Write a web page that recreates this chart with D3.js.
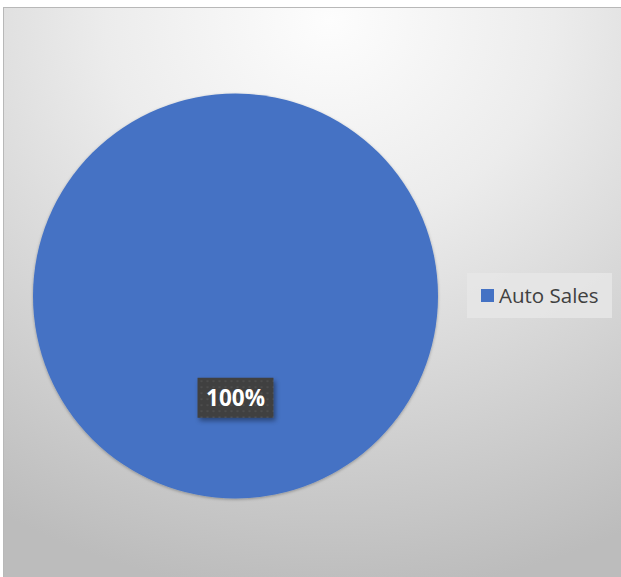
<!DOCTYPE html>
<html><head><meta charset="utf-8">
<script src="https://cdn.jsdelivr.net/npm/d3@7"></script>
<style>html,body{margin:0;padding:0;background:#fff;overflow:hidden}</style>
</head><body>
<script>
const categories = ["Auto Sales"];
const values = [1];
const colors = ["#4472c4"];

const W = 621, H = 577;
const svg = d3.select("body").append("svg").attr("width", W).attr("height", H);
const defs = svg.append("defs");

const bg = defs.append("radialGradient").attr("id","bg")
  .attr("gradientUnits","userSpaceOnUse")
  .attr("cx",330).attr("cy",20).attr("r",640)
  .attr("gradientTransform","translate(330,20) scale(1,0.9) translate(-330,-20)");
bg.append("stop").attr("offset","0").attr("stop-color","#fdfdfd");
bg.append("stop").attr("offset","0.35").attr("stop-color","#ececec");
bg.append("stop").attr("offset","1").attr("stop-color","#bcbcbc");

const pat = defs.append("pattern").attr("id","dots").attr("patternUnits","userSpaceOnUse")
  .attr("width",6).attr("height",6);
pat.append("rect").attr("width",6).attr("height",6).attr("fill","#3f3f3f");
pat.append("rect").attr("x",1).attr("y",1).attr("width",2).attr("height",2).attr("fill","#4e4e4e");

const sh = defs.append("filter").attr("id","sh").attr("x","-20%").attr("y","-20%").attr("width","150%").attr("height","150%");
sh.append("feDropShadow").attr("dx",2).attr("dy",3).attr("stdDeviation",2.5).attr("flood-color","#000").attr("flood-opacity",0.4);
const psh = defs.append("filter").attr("id","psh").attr("x","-10%").attr("y","-10%").attr("width","120%").attr("height","120%");
psh.append("feDropShadow").attr("dx",0).attr("dy",1).attr("stdDeviation",1.5).attr("flood-color","#000").attr("flood-opacity",0.3);

svg.append("rect").attr("x",3.5).attr("y",7.5).attr("width",W-3).attr("height",H-7)
  .attr("fill","url(#bg)").attr("stroke","#b8b8b8").attr("stroke-width",1);

const cx = 235.5, cy = 296, r = 202.5;
const pie = d3.pie().sort(null)(values);
const arc = d3.arc().innerRadius(0).outerRadius(r);
const g = svg.append("g").attr("transform",`translate(${cx},${cy})`);
g.selectAll("path").data(pie).join("path")
  .attr("d", d => values.length === 1 ? d3.arc().innerRadius(0).outerRadius(r)({startAngle:0,endAngle:2*Math.PI}) : arc(d))
  .attr("fill",(d,i)=>colors[i]).attr("filter","url(#psh)");

const total = d3.sum(values);
const fmt = d3.format(".0%");
const lg = g.selectAll("g.lbl").data(pie).join("g").attr("class","lbl")
  .attr("transform", d => `translate(0,${r*0.5})`);
lg.append("rect").attr("x",-38).attr("y",-19.5).attr("width",76).attr("height",40)
  .attr("fill","url(#dots)").attr("filter","url(#sh)");
lg.append("text").attr("text-anchor","middle").attr("y",8.5)
  .attr("font-family","'Open Sans', Calibri, sans-serif").attr("font-weight","bold")
  .attr("font-size",22.5).attr("fill","#fff").text(d => fmt(d.value/total));

const leg = svg.append("g").attr("transform","translate(467,273)");
leg.append("rect").attr("width",145).attr("height",45).attr("fill","#e6e6e6").attr("fill-opacity",0.85);
categories.forEach((c,i)=>{
  leg.append("rect").attr("x",14).attr("y",16).attr("width",13).attr("height",13).attr("fill",colors[i]);
  leg.append("text").attr("x",32).attr("y",30).attr("font-family","'Open Sans', Calibri, sans-serif")
    .attr("font-size",20.5).attr("fill","#404040").text(c);
});
</script>
</body></html>
